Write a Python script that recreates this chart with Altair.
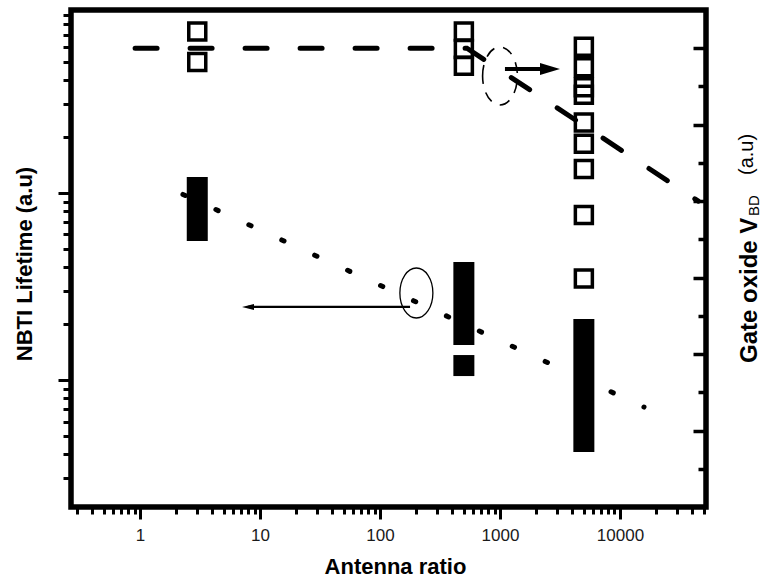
import altair as alt
import pandas as pd

FONT = "Liberation Sans"

# ---------------- data ----------------
# Gate oxide breakdown voltage (open squares, right axis, a.u.)
vbd_ratio = [3, 3, 500, 500, 500, 5000, 5000, 5000, 5000, 5000, 5000, 5000, 5000, 5000]
vbd_value = [6.22, 5.82, 6.22, 5.99, 5.77, 6.02, 5.75, 5.49, 5.39, 5.03, 4.75, 4.42, 3.82, 2.99]

# NBTI lifetime spread (filled bars, left axis, a.u.)
nbti_ratio = [3, 500, 500, 5000]
nbti_low = [0.554, 0.154, 0.105, 0.0412]
nbti_high = [1.218, 0.428, 0.136, 0.212]

# Trend lines
nbti_trend_ratio = [2.28, 15850]
nbti_trend_value = [0.983, 0.0717]
vbd_trend_ratio = [0.91, 530, 45000]
vbd_trend_value = [6.0, 6.0, 4.0]

# Annotations: ellipses and arrows
nbti_ellipse = {"ratio": [201], "value": [0.292]}
vbd_ellipse = {"ratio": [1000], "value": [5.637]}
nbti_arrow = {"start": [178], "end": [7.94], "value": [0.246]}
vbd_arrow = {"start": [1100], "end": [2610], "value": [5.728]}

right_title = ["Gate oxide V", "BD", "(a.u)"]

# ---------------- scales & axes ----------------
x_domain = [0.266, 52100]
left_domain = [0.02094, 9.52]
right_domain = [0, 6.5]

x_ticks = [m * 10 ** e for e in range(-1, 5) for m in range(1, 10)]
x_ticks = [t for t in x_ticks if x_domain[0] <= t <= x_domain[1]]
left_ticks = [m * 10 ** e for e in range(-2, 1) for m in range(1, 10)]
left_ticks = [t for t in left_ticks if left_domain[0] <= t <= left_domain[1]]
right_ticks = [0.5 * i for i in range(1, 13)]

DECADE = "abs(log(datum.value) / LN10 - round(log(datum.value) / LN10)) < 1e-6"
INTEGER = "abs(datum.value - round(datum.value)) < 1e-6"

x_scale = alt.Scale(type="log", domain=x_domain, nice=False, padding=0)
left_scale = alt.Scale(type="log", domain=left_domain, nice=False, padding=0)
right_scale = alt.Scale(domain=right_domain, nice=False, zero=False, padding=0)

x_axis = alt.Axis(
    values=x_ticks,
    title="Antenna ratio",
    titleFont=FONT, titleFontSize=22, titleFontWeight="bold", titleColor="black",
    titleX=324, titleY=66, titleAlign="center", titleBaseline="alphabetic",
    labelExpr=f"{DECADE} ? format(datum.value, 'd') : ''",
    labelFont=FONT, labelFontSize=17, labelColor="#1a1a1a",
    labelPadding=8, labelOverlap=False, labelFlush=False,
    tickSize=12, tickWidth=3, tickColor="black",
    tickDash={"condition": {"test": DECADE, "value": []}, "value": [7, 100]},
    domain=False, grid=False,
)

left_axis = alt.Axis(
    orient="left",
    values=left_ticks,
    labels=False,
    title="NBTI Lifetime (a.u)",
    titleFont=FONT, titleFontSize=22, titleFontWeight="bold", titleColor="black",
    titleAngle=270, titleX=-47, titleY=253.5, titleAlign="center", titleBaseline="middle",
    tickSize=13, tickWidth=3, tickColor="black",
    tickDash={"condition": {"test": DECADE, "value": []}, "value": [8, 100]},
    domain=False, grid=False,
)

right_axis = alt.Axis(
    orient="right",
    values=right_ticks,
    labels=False,
    title="",
    offset=-13,
    tickSize=13, tickWidth=3.5, tickColor="black",
    tickDash={"condition": {"test": INTEGER, "value": []}, "value": [0, 5, 100]},
    domain=False, grid=False,
)

X = lambda f: alt.X(f, type="quantitative", scale=x_scale, axis=x_axis)
YL = lambda f: alt.Y(f, type="quantitative", scale=left_scale, axis=left_axis)
YR = lambda f: alt.Y(f, type="quantitative", scale=right_scale, axis=right_axis)

# ---------------- NBTI layers (left axis) ----------------
nbti_df = pd.DataFrame({"ratio": nbti_ratio, "low": nbti_low, "high": nbti_high})
nbti_trend_df = pd.DataFrame({"ratio": nbti_trend_ratio, "value": nbti_trend_value})

nbti_trend = alt.Chart(nbti_trend_df).mark_line(
    color="black", strokeWidth=5, strokeDash=[2.5, 33.76], strokeCap="round"
).encode(x=X("ratio"), y=YL("value"))

nbti_bars = alt.Chart(nbti_df).mark_bar(size=21, color="black", orient="vertical").encode(
    x=X("ratio"), y=YL("low"), y2="high"
)

nbti_ring = alt.Chart(pd.DataFrame(nbti_ellipse)).mark_point(
    shape="M -0.66 0 A 0.66 1 0 1 1 0.66 0 A 0.66 1 0 1 1 -0.66 0 Z",
    size=2500, filled=False, color="black", strokeWidth=1.3, opacity=1,
).encode(x=X("ratio"), y=YL("value"))

nbti_arrow_df = pd.DataFrame(nbti_arrow)
nbti_shaft = alt.Chart(nbti_arrow_df).mark_rule(color="black", strokeWidth=2.3).encode(
    x=X("start"), x2="end", y=YL("value")
)
nbti_head = alt.Chart(nbti_arrow_df).mark_point(
    shape="M 1 -0.5 L -1 0 L 1 0.5 Z", size=144, filled=True, color="black", opacity=1
).encode(x=X("end"), y=YL("value"))

nbti_group = alt.layer(nbti_trend, nbti_bars, nbti_ring, nbti_shaft, nbti_head)

# ---------------- VBD layers (right axis) ----------------
vbd_df = pd.DataFrame({"ratio": vbd_ratio, "value": vbd_value})
vbd_trend_df = pd.DataFrame({"ratio": vbd_trend_ratio, "value": vbd_trend_value})

vbd_points = alt.Chart(vbd_df).mark_point(
    shape="square", size=289, filled=False, color="black", strokeWidth=3.5, opacity=1
).encode(x=X("ratio"), y=YR("value"))

vbd_trend = alt.Chart(vbd_trend_df).mark_line(
    color="black", strokeWidth=5, strokeDash=[22, 33], strokeCap="round"
).encode(x=X("ratio"), y=YR("value"))

vbd_ring = alt.Chart(pd.DataFrame(vbd_ellipse)).mark_point(
    shape="M -0.6 0 A 0.6 1 0 1 1 0.6 0 A 0.6 1 0 1 1 -0.6 0 Z",
    size=3364, filled=False, color="black", strokeWidth=1.6, strokeDash=[11, 9], opacity=1,
).encode(x=X("ratio"), y=YR("value"))

vbd_arrow_df = pd.DataFrame(vbd_arrow)
vbd_shaft = alt.Chart(vbd_arrow_df).mark_rule(color="black", strokeWidth=4).encode(
    x=X("start"), x2="end", y=YR("value")
)
vbd_head = alt.Chart(vbd_arrow_df).mark_point(
    shape="M -1 -0.6 L 1 0 L -1 0.6 Z", size=400, filled=True, color="black", opacity=1
).encode(x=X("end"), y=YR("value"))

vbd_group = alt.layer(vbd_points, vbd_trend, vbd_ring, vbd_shaft, vbd_head)

# ---------------- right axis title with subscript ----------------
def title_piece(text, x, y, size, weight):
    return alt.Chart(pd.DataFrame({"t": [text]})).mark_text(
        angle=270, align="left", baseline="alphabetic",
        font=FONT, fontSize=size, fontWeight=weight, color="black",
    ).encode(text="t:N", x=alt.value(x), y=alt.value(y))

title_main = title_piece(right_title[0], 686, 353, 24, "bold")
title_sub = title_piece(right_title[1], 688, 206, 15, "normal")
title_unit = title_piece(right_title[2], 682, 165, 20, "normal")

chart = (
    alt.layer(nbti_group, vbd_group, title_main, title_sub, title_unit)
    .resolve_scale(y="independent")
    .properties(
        width=635,
        height=497,
        autosize=alt.AutoSizeParams(type="none"),
        padding={"left": 71, "top": 10, "right": 55, "bottom": 70},
        background="white",
    )
    .configure_view(stroke="black", strokeWidth=5.5)
)

chart.save("out.html", embed_options={"renderer": "svg", "actions": False})
